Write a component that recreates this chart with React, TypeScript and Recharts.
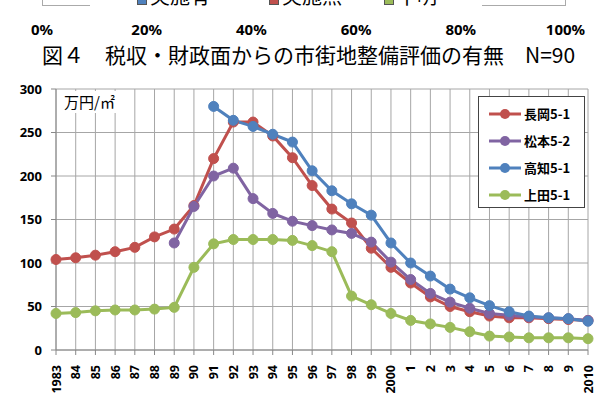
import React from 'react';
import {
  LineChart,
  Line,
  XAxis,
  YAxis,
  CartesianGrid,
} from 'recharts';

const years = [
  '1983', '84', '85', '86', '87', '88', '89', '90', '91', '92', '93', '94', '95', '96',
  '97', '98', '99', '2000', '1', '2', '3', '4', '5', '6', '7', '8', '9', '2010',
];

const nagaoka = [
  104, 106, 109, 113, 118, 130, 139, 166, 220, 262, 262, 246, 221, 189,
  162, 146, 117, 95, 77, 61, 50, 44, 39, 37, 37, 36, 35, 34,
];
const matsumoto = [
  null, null, null, null, null, null, 123, 165, 200, 209, 174, 157, 148, 143,
  138, 134, 124, 101, 81, 65, 55, 48, 42, 40, 38, 37, 36, 34,
];
const kochi = [
  null, null, null, null, null, null, null, null, 280, 264, 257, 248, 239, 206,
  183, 168, 155, 123, 100, 85, 70, 60, 51, 44, 39, 37, 36, 33,
];
const ueda = [
  42, 43, 45, 46, 46, 47, 49, 95, 122, 127, 127, 127, 126, 120,
  113, 62, 52, 42, 34, 30, 26, 21, 16, 15, 14, 14, 14, 13,
];

const yTicks = [0, 50, 100, 150, 200, 250, 300];
const percentLabels = ['0%', '20%', '40%', '60%', '80%', '100%'];
const upperLegend = ['実施有', '実施無', '不明'];

const series = [
  { key: 'nagaoka', name: '長岡5-1', color: '#C0504D' },
  { key: 'matsumoto', name: '松本5-2', color: '#8064A2' },
  { key: 'kochi', name: '高知5-1', color: '#4F81BD' },
  { key: 'ueda', name: '上田5-1', color: '#9BBB59' },
];

const data = years.map((year, i) => ({
  year,
  nagaoka: nagaoka[i],
  matsumoto: matsumoto[i],
  kochi: kochi[i],
  ueda: ueda[i],
}));

const FONT = '"Noto Sans", "Noto Sans CJK JP", sans-serif';
const JP_FONT = '"Noto Sans CJK JP", "Noto Sans", sans-serif';

const YearTick = (props: any) => {
  const { x, y, payload } = props;
  const ty = y + 8;
  return (
    <text
      x={x}
      y={ty}
      transform={`rotate(-90 ${x} ${ty})`}
      textAnchor="end"
      dy="0.36em"
      fontSize={12.5}
      fontWeight="bold"
      fontFamily={FONT}
      fill="#000"
    >
      {payload.value}
    </text>
  );
};

const LegendBox = () => (
  <div
    style={{
      position: 'absolute',
      left: 478,
      top: 96,
      width: 107,
      height: 112,
      border: '1px solid #444',
      background: '#fff',
      boxSizing: 'border-box',
      paddingTop: 3,
    }}
  >
    {series.map((s) => (
      <div key={s.key} style={{ display: 'flex', alignItems: 'center', height: 27 }}>
        <svg width={45} height={14}>
          <line x1={10} y1={7} x2={42} y2={7} stroke={s.color} strokeWidth={3} />
          <circle cx={26} cy={7} r={5} fill={s.color} />
        </svg>
        <span
          style={{
            fontFamily: JP_FONT,
            fontWeight: 'bold',
            fontSize: 13,
            color: '#000',
          }}
        >
          {s.name}
        </span>
      </div>
    ))}
  </div>
);

const upperColors = ['#4F81BD', '#C0504D', '#9BBB59'];
const upperX = [137, 269, 384];

export default function App() {
  return (
    <div
      style={{
        position: 'absolute',
        left: 0,
        top: 0,
        width: 597,
        height: 394,
        overflow: 'hidden',
        background: '#fff',
      }}
    >
      {/* bottom edge of the stacked-bar legend above */}
      <div
        style={{
          position: 'absolute',
          left: 42,
          top: -10,
          width: 524,
          height: 16,
          border: '1px solid #aaa',
          boxSizing: 'border-box',
        }}
      />
      <div
        style={{
          position: 'absolute',
          left: 90,
          top: -10,
          width: 392,
          height: 17,
          background: '#fff',
        }}
      />
      {upperLegend.map((label, i) => (
        <div
          key={label}
          style={{
            position: 'absolute',
            left: upperX[i],
            top: -16,
            height: 24,
            display: 'flex',
            alignItems: 'flex-end',
            fontFamily: JP_FONT,
            fontSize: 20,
            lineHeight: '24px',
            color: '#000',
            whiteSpace: 'nowrap',
          }}
        >
          <span
            style={{
              display: 'inline-block',
              width: 10,
              height: 10,
              background: upperColors[i],
              border: '1px solid #555',
              boxSizing: 'border-box',
              marginRight: 3,
              marginBottom: 3,
            }}
          />
          {label}
        </div>
      ))}

      {percentLabels.map((p, i) => (
        <div
          key={p}
          style={{
            position: 'absolute',
            left: 42 + i * 104.7 - 30,
            top: 19,
            width: 60,
            textAlign: 'center',
            fontFamily: FONT,
            fontWeight: 'bold',
            fontSize: 15,
            lineHeight: '20px',
            color: '#000',
          }}
        >
          {p}
        </div>
      ))}

      <div
        style={{
          position: 'absolute',
          left: 42,
          top: 40,
          fontFamily: JP_FONT,
          fontSize: 21,
          lineHeight: '28px',
          color: '#000',
          whiteSpace: 'pre',
        }}
      >
        {'図４　税収・財政面からの市街地整備評価の有無　N=90'}
      </div>

      <div style={{ position: 'absolute', left: 0, top: 0 }}>
        <LineChart
          width={597}
          height={394}
          data={data}
          margin={{ top: 89, right: 9, bottom: 4, left: 0 }}
        >
          <CartesianGrid stroke="#a6a6a6" strokeWidth={1} />
          <XAxis
            dataKey="year"
            interval={0}
            height={40}
            tick={<YearTick />}
            tickSize={5}
            stroke="#888"
            tickLine={{ stroke: '#888' }}
          />
          <YAxis
            domain={[0, 300]}
            ticks={yTicks}
            width={56}
            tickSize={5}
            tickMargin={9}
            stroke="#888"
            tick={{ fontSize: 13, fontWeight: 'bold', fontFamily: FONT, fill: '#000' }}
          />
          {series.map((s) => (
            <Line
              key={s.key}
              dataKey={s.key}
              name={s.name}
              stroke={s.color}
              strokeWidth={3}
              dot={{ r: 5, fill: s.color, stroke: s.color, strokeWidth: 1 }}
              isAnimationActive={false}
            />
          ))}
        </LineChart>
      </div>

      <LegendBox />

      {/* unit label sitting on a white patch over the grid */}
      <div
        style={{
          position: 'absolute',
          left: 60,
          top: 91,
          width: 57,
          height: 22,
          background: '#fff',
          fontFamily: JP_FONT,
          fontSize: 15,
          lineHeight: '22px',
          paddingLeft: 4,
          boxSizing: 'border-box',
          color: '#000',
          whiteSpace: 'nowrap',
        }}
      >
        万円/㎡
      </div>
    </div>
  );
}
